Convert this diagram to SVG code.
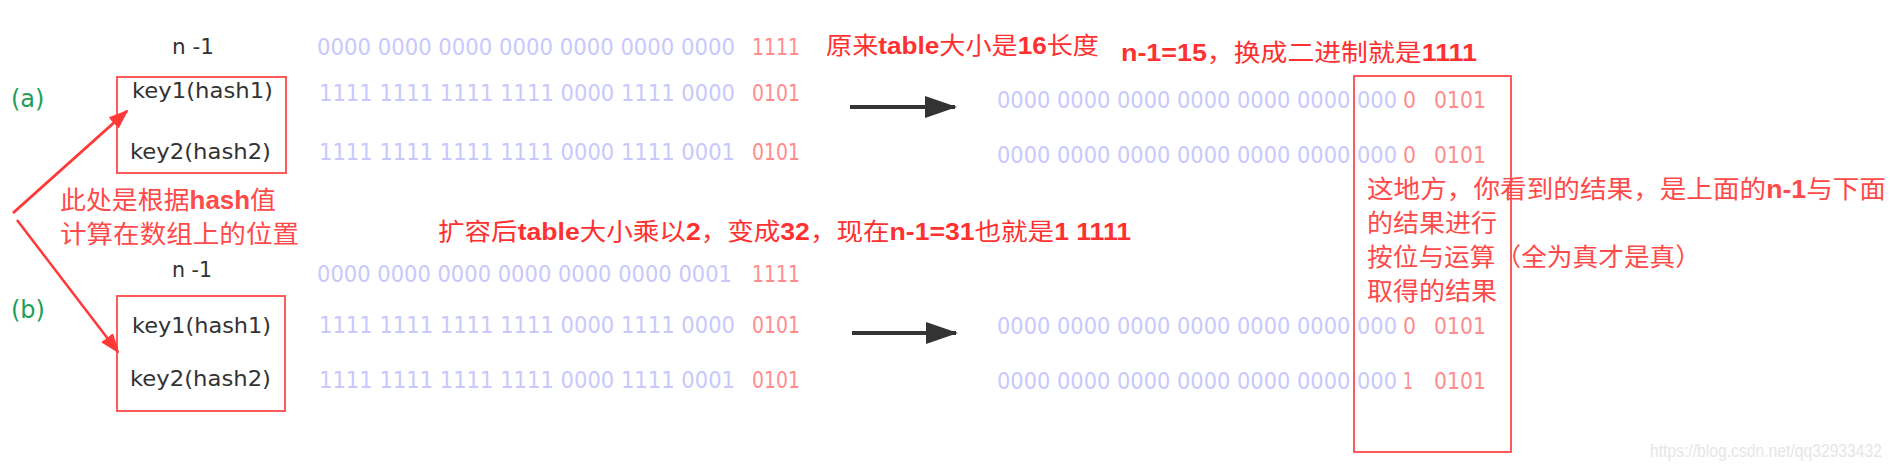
<svg xmlns="http://www.w3.org/2000/svg" width="1894" height="470" viewBox="0 0 1894 470">
<defs>
<marker id="redHead" markerUnits="userSpaceOnUse" markerWidth="20" markerHeight="15" refX="18" refY="7.5" orient="auto"><path d="M0,0 L20,7.5 L0,15 Z" fill="#ff3838"/></marker>
<marker id="darkHead" markerUnits="userSpaceOnUse" markerWidth="32" markerHeight="22" refX="30" refY="11" orient="auto"><path d="M0,0 L32,11 L0,22 Z" fill="#333333"/></marker>
</defs>
<style>
.bin{font-family:"DejaVu Sans",sans-serif;font-size:23px;fill:#c8c8fc}
.rd{font-family:"DejaVu Sans",sans-serif;font-size:23px;fill:#ff8c8c}
.lbl{font-family:"DejaVu Sans",sans-serif;font-size:22px;fill:#333333}
.grp{font-family:"DejaVu Sans",sans-serif;font-size:24px;fill:#1e9e58}
.ann{font-family:"Liberation Sans","Noto Sans CJK SC",sans-serif;font-size:24px;fill:#ff3030}
.b{font-weight:bold}
.note{font-family:"Noto Sans CJK SC",sans-serif;font-size:25px;fill:#ff4a4a}
.box{fill:none;stroke:#ff5a5a;stroke-width:2}
.wm{font-family:"Liberation Sans",sans-serif;font-size:18px;fill:#e6e6e6}
</style>
<rect width="1894" height="470" fill="#ffffff"/>

<g id="section-a">
  <text class="grp" x="11" y="107">(a)</text>
  <text class="lbl" x="172" y="54" textLength="42" lengthAdjust="spacingAndGlyphs">n -1</text>
  <text class="bin" x="317" y="55" textLength="418" lengthAdjust="spacingAndGlyphs">0000 0000 0000 0000 0000 0000 0000</text>
  <text class="rd" x="752" y="55" textLength="48" lengthAdjust="spacingAndGlyphs">1111</text>
</g>
<g id="box-a">
  <rect class="box" x="117" y="77" width="169" height="96"/>
  <text class="lbl" x="132" y="98" textLength="141" lengthAdjust="spacingAndGlyphs">key1(hash1)</text>
  <text class="lbl" x="130" y="159" textLength="141" lengthAdjust="spacingAndGlyphs">key2(hash2)</text>
</g>
<g id="rows-a">
  <text class="bin" x="319" y="101" textLength="416" lengthAdjust="spacingAndGlyphs">1111 1111 1111 1111 0000 1111 0000</text>
  <text class="rd" x="752" y="101" textLength="48" lengthAdjust="spacingAndGlyphs">0101</text>
  <text class="bin" x="319" y="160" textLength="416" lengthAdjust="spacingAndGlyphs">1111 1111 1111 1111 0000 1111 0001</text>
  <text class="rd" x="752" y="160" textLength="48" lengthAdjust="spacingAndGlyphs">0101</text>
</g>
<g id="result-a">
  <text class="bin" x="997" y="108" textLength="400" lengthAdjust="spacingAndGlyphs">0000 0000 0000 0000 0000 0000 000</text>
  <text class="rd" x="1403" y="108" textLength="13" lengthAdjust="spacingAndGlyphs">0</text>
  <text class="rd" x="1434" y="108" textLength="52" lengthAdjust="spacingAndGlyphs">0101</text>
  <text class="bin" x="997" y="163" textLength="400" lengthAdjust="spacingAndGlyphs">0000 0000 0000 0000 0000 0000 000</text>
  <text class="rd" x="1403" y="163" textLength="13" lengthAdjust="spacingAndGlyphs">0</text>
  <text class="rd" x="1434" y="163" textLength="52" lengthAdjust="spacingAndGlyphs">0101</text>
</g>

<g id="section-b">
  <text class="grp" x="11" y="318">(b)</text>
  <text class="lbl" x="172" y="277" textLength="40" lengthAdjust="spacingAndGlyphs">n -1</text>
  <text class="bin" x="317" y="282" textLength="415" lengthAdjust="spacingAndGlyphs">0000 0000 0000 0000 0000 0000 0001</text>
  <text class="rd" x="752" y="282" textLength="48" lengthAdjust="spacingAndGlyphs">1111</text>
</g>
<g id="box-b">
  <rect class="box" x="117" y="296" width="168" height="115"/>
  <text class="lbl" x="132" y="333" textLength="139" lengthAdjust="spacingAndGlyphs">key1(hash1)</text>
  <text class="lbl" x="130" y="386" textLength="141" lengthAdjust="spacingAndGlyphs">key2(hash2)</text>
</g>
<g id="rows-b">
  <text class="bin" x="319" y="333" textLength="416" lengthAdjust="spacingAndGlyphs">1111 1111 1111 1111 0000 1111 0000</text>
  <text class="rd" x="752" y="333" textLength="48" lengthAdjust="spacingAndGlyphs">0101</text>
  <text class="bin" x="319" y="388" textLength="416" lengthAdjust="spacingAndGlyphs">1111 1111 1111 1111 0000 1111 0001</text>
  <text class="rd" x="752" y="388" textLength="48" lengthAdjust="spacingAndGlyphs">0101</text>
</g>
<g id="result-b">
  <text class="bin" x="997" y="334" textLength="400" lengthAdjust="spacingAndGlyphs">0000 0000 0000 0000 0000 0000 000</text>
  <text class="rd" x="1403" y="334" textLength="13" lengthAdjust="spacingAndGlyphs">0</text>
  <text class="rd" x="1434" y="334" textLength="52" lengthAdjust="spacingAndGlyphs">0101</text>
  <text class="bin" x="997" y="389" textLength="400" lengthAdjust="spacingAndGlyphs">0000 0000 0000 0000 0000 0000 000</text>
  <text class="rd" x="1403" y="389" textLength="10" lengthAdjust="spacingAndGlyphs">1</text>
  <text class="rd" x="1434" y="389" textLength="52" lengthAdjust="spacingAndGlyphs">0101</text>
</g>

<g id="annotations">
  <text class="ann" x="826" y="54" textLength="273" lengthAdjust="spacingAndGlyphs">原来<tspan class="b">table</tspan>大小是<tspan class="b">16</tspan>长度</text>
  <text class="ann" x="1121" y="61" textLength="356" lengthAdjust="spacingAndGlyphs"><tspan class="b">n-1=15</tspan>，换成二进制就是<tspan class="b">1111</tspan></text>
  <text class="ann" x="438" y="240" textLength="693" lengthAdjust="spacingAndGlyphs">扩容后<tspan class="b">table</tspan>大小乘以<tspan class="b">2</tspan>，变成<tspan class="b">32</tspan>，现在<tspan class="b">n-1=31</tspan>也就是<tspan class="b">1 1111</tspan></text>
</g>
<g id="hash-note">
  <text class="note" x="60" y="209" textLength="216" lengthAdjust="spacingAndGlyphs">此处是根据<tspan class="b" font-family="Liberation Sans">hash</tspan>值</text>
  <text class="note" x="60" y="243" textLength="239" lengthAdjust="spacingAndGlyphs">计算在数组上的位置</text>
</g>
<g id="result-box">
  <rect class="box" x="1354" y="76" width="157" height="376"/>
  <text class="note" x="1367" y="198" textLength="519" lengthAdjust="spacingAndGlyphs">这地方，你看到的结果，是上面的<tspan class="b" font-family="Liberation Sans">n-1</tspan>与下面</text>
  <text class="note" x="1367" y="232" textLength="130" lengthAdjust="spacingAndGlyphs">的结果进行</text>
  <text class="note" x="1367" y="266" textLength="334" lengthAdjust="spacingAndGlyphs">按位与运算（全为真才是真）</text>
  <text class="note" x="1367" y="300" textLength="130" lengthAdjust="spacingAndGlyphs">取得的结果</text>
</g>

<g id="connectors">
  <line x1="13" y1="213" x2="127" y2="111" stroke="#ff3838" stroke-width="3" marker-end="url(#redHead)"/>
  <line x1="17" y1="220" x2="118" y2="352" stroke="#ff3838" stroke-width="2.5" marker-end="url(#redHead)"/>
  <line x1="850" y1="107" x2="955" y2="107" stroke="#333333" stroke-width="4" marker-end="url(#darkHead)"/>
  <line x1="852" y1="333" x2="956" y2="333" stroke="#333333" stroke-width="4" marker-end="url(#darkHead)"/>
</g>

<text class="wm" x="1650" y="457" textLength="232" lengthAdjust="spacingAndGlyphs">https://blog.csdn.net/qq32933432</text>
</svg>
